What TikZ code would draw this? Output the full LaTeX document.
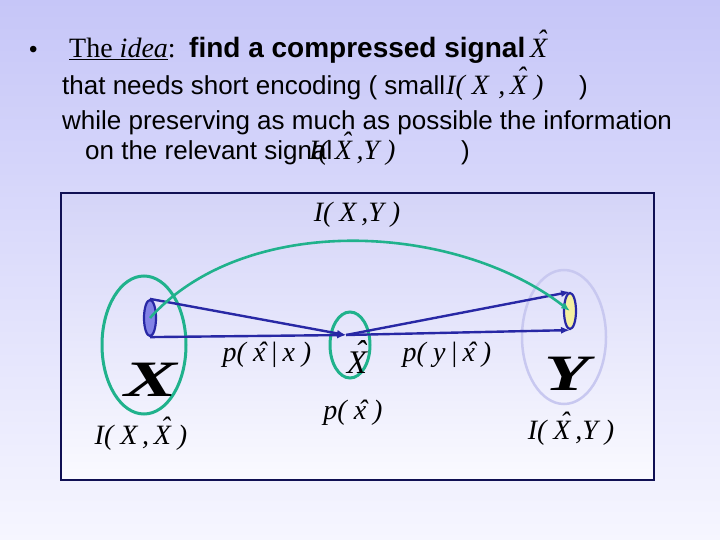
\documentclass[tikz,border=0pt]{standalone}
\usepackage{fontspec}
\setmainfont{Liberation Serif}
\setsansfont{Liberation Sans}
\usetikzlibrary{shapes.geometric,arrows.meta}
\definecolor{bgtop}{RGB}{198,198,248}
\definecolor{bgbot}{RGB}{246,246,255}
\definecolor{boxtop}{RGB}{212,212,248}
\definecolor{boxbot}{RGB}{250,250,255}
\definecolor{navy}{RGB}{16,16,84}
\definecolor{tealg}{RGB}{32,178,140}
\definecolor{lav}{RGB}{200,200,240}
\definecolor{darkb}{RGB}{40,40,165}
\definecolor{sxfill}{RGB}{130,130,230}
\definecolor{syfill}{RGB}{245,240,160}
\newcommand\hatc[2]{{\ooalign{#2\cr\hidewidth\kern0.2em\raisebox{#1}{\char"02C6}\hidewidth\cr}}}
\newcommand\hX{\hatc{0.3em}{X}}
\newcommand\hx{\hatc{0em}{x}}
\tikzset{
  lab/.style={inner sep=0pt,font=\fontsize{28}{28}\selectfont\itshape},
  txt/.style={inner sep=0pt,anchor=base west,font=\fontsize{26}{26}\selectfont\sffamily},
  big/.style={inner sep=0pt,font=\fontsize{51}{51}\selectfont\bfseries\itshape},
  ell/.style={ellipse,inner sep=0pt},
  arr/.style={draw=darkb,line width=2.4pt,-{Latex[length=9pt,width=7pt]}},
}
\begin{document}
\begin{tikzpicture}[x=1pt,y=-1pt]
\useasboundingbox (0,0) rectangle (720,540);
\shade[top color=bgtop,bottom color=bgbot] (0,0) rectangle (720,540);
% header text
\node[txt,font=\fontsize{24}{24}\selectfont\sffamily] (bul) at (29,58) {•};
\node[txt,font=\fontsize{28}{28}\selectfont\rmfamily] (idea) at (69,58) {\underline{The \textit{idea}}:};
\node[txt,font=\fontsize{28}{28}\selectfont\sffamily\bfseries] (l1) at (189,58) {find a compressed signal};
\node[txt,font=\fontsize{28}{28}\selectfont\itshape] (l1x) at (530,58) {\hX};
\node[txt] (l2) at (62,95) {that needs short encoding ( small};
\node[txt,font=\fontsize{28}{28}\selectfont\itshape] (l2m) at (446,95) {I( X\,\,,\,\hX\ )};
\node[txt] (l2c) at (579,95) {)};
\node[txt] (l3) at (62,130) {while preserving as much as possible the information};
\node[txt] (l4) at (85,160) {on the relevant signal};
\node[txt,font=\fontsize{28}{28}\selectfont\itshape] (l4m) at (309,160) {I( \hX\,,Y )};
\node[txt] (l4c) at (461,160) {)};
% box
\shade[top color=boxtop,bottom color=boxbot] (61,193) rectangle (654,480);
\draw[navy,line width=1.6pt] (61,193) rectangle (654,480);
% ellipses
\node[ell,draw=tealg,line width=3pt,minimum width=84pt,minimum height=138pt] (EX) at (144,345) {};
\node[ell,draw=tealg,line width=3pt,minimum width=40pt,minimum height=66pt] (EXH) at (350,345) {};
\node[ell,draw=lav,line width=2.5pt,minimum width=84pt,minimum height=134pt] (EY) at (564,337) {};
\node[ell,draw=darkb,fill=sxfill,line width=2.2pt,minimum width=12pt,minimum height=36pt] (sx) at (150,318) {};
\node[ell,draw=darkb,fill=syfill,line width=2.2pt,minimum width=12pt,minimum height=36pt] (sy) at (570,311) {};
\coordinate (xh) at (346,335);
% arrows
\draw[arr] (sx.north) -- (xh);
\draw[arr] (sx.south) -- (xh);
\draw[arr] (xh) -- (sy.north);
\draw[arr] (xh) -- (sy.south);
\draw[tealg,line width=2.6pt,-{Latex[length=9pt,width=7pt]}] (sx.center) .. controls (245,212) and (455,222) .. (sy.center);
% labels
\node[lab] (ixy) at (357,215) {I( X\,,Y )};
\node[lab] (pxx) at (267,355) {p( \hx\,|\,x )};
\node[lab,font=\fontsize{33}{33}\selectfont\itshape] (xhat) at (357,363) {\hX};
\node[lab] (pyx) at (447,355) {p( y\,|\,\hx\ )};
\node[big] (bX) at (151,380) {\scalebox{1.55}[1]{X}};
\node[big] (bY) at (567,374) {\scalebox{1.45}[1]{Y}};
\node[lab] (px) at (353,413) {p( \hx\ )};
\node[lab] (ixx) at (141,438) {I( X\,,\,\hX\ )};
\node[lab] (ixhy) at (571,433) {I( \hX\,,Y )};
\end{tikzpicture}
\end{document}
